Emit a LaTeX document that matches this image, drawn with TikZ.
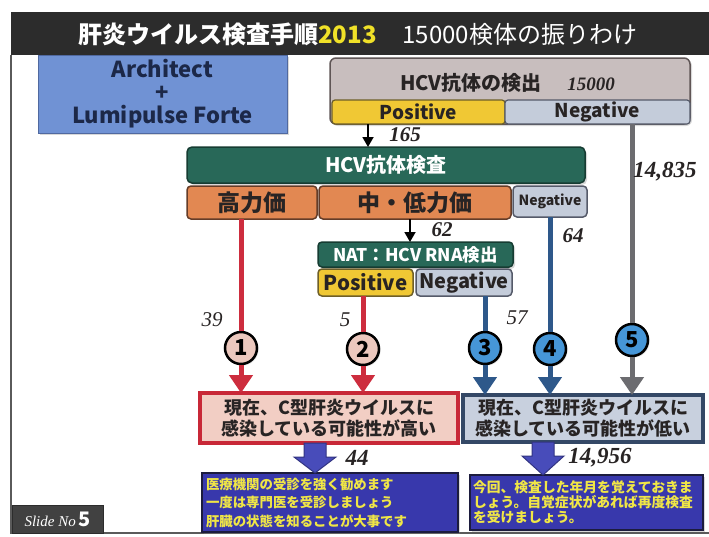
\documentclass[tikz,border=0pt]{standalone}
\usepackage{fontspec}
\setmainfont{Noto Sans CJK JP}
\newfontfamily\numfont{Liberation Serif}
\usetikzlibrary{arrows.meta,calc,shadows}
\definecolor{ttlbg}{RGB}{44,44,44}
\definecolor{ttlyel}{RGB}{240,225,40}
\definecolor{archblue}{RGB}{112,146,212}
\definecolor{archbd}{RGB}{80,105,160}
\definecolor{archtxt}{RGB}{28,40,72}
\definecolor{hcvgray}{RGB}{200,190,190}
\definecolor{hcvbd}{RGB}{95,85,85}
\definecolor{posyel}{RGB}{240,200,52}
\definecolor{posbd}{RGB}{110,95,40}
\definecolor{neggray}{RGB}{196,204,218}
\definecolor{negbd}{RGB}{85,90,105}
\definecolor{grn}{RGB}{40,104,88}
\definecolor{grnbd}{RGB}{22,60,50}
\definecolor{org}{RGB}{226,136,82}
\definecolor{orgbd}{RGB}{100,60,40}
\definecolor{redl}{RGB}{205,45,62}
\definecolor{bluel}{RGB}{46,88,138}
\definecolor{grayl}{RGB}{108,108,112}
\definecolor{cpink}{RGB}{236,200,190}
\definecolor{cblue}{RGB}{70,150,215}
\definecolor{rfill}{RGB}{242,206,196}
\definecolor{rbd}{RGB}{200,40,55}
\definecolor{bfill}{RGB}{200,208,222}
\definecolor{bbd}{RGB}{52,72,102}
\definecolor{blk}{RGB}{72,76,186}
\definecolor{blkbd}{RGB}{50,52,130}
\definecolor{navy}{RGB}{56,56,172}
\definecolor{navybd}{RGB}{28,28,62}
\definecolor{navytxt}{RGB}{240,230,70}
\definecolor{framec}{RGB}{90,90,90}
\definecolor{darktxt}{RGB}{40,36,36}
\tikzset{
  bx/.style={draw, inner sep=0pt, outer sep=0pt, anchor=north west, align=center, font=\bfseries},
  lbl/.style={inner sep=0pt, font=\numfont\itshape\bfseries\fontsize{21}{21}\selectfont, text=darktxt},
  lbll/.style={inner sep=0pt, font=\numfont\itshape\fontsize{21}{21}\selectfont, text=darktxt},
  num/.style={circle, draw=black, line width=2.5pt, minimum size=32pt, inner sep=0pt, font=\bfseries\fontsize{22}{22}\selectfont, drop shadow={opacity=0.25,shadow xshift=1.5pt,shadow yshift=-1.5pt}},
  redln/.style={draw=redl, line width=5pt},
  blueln/.style={draw=bluel, line width=5pt},
  grayln/.style={draw=grayl, line width=5pt},
  tip/.style={-{Triangle[width=23pt,length=18pt]}},
  thin/.style={draw=black, line width=1.8pt, -{Triangle[width=11pt,length=10pt]}},
  shd/.style={drop shadow={opacity=0.3,shadow xshift=2pt,shadow yshift=-2pt}},
  blockarrow/.style={fill=blk, draw=blkbd, line width=1pt}
}
\begin{document}
\begin{tikzpicture}[x=1pt,y=-1pt]
\useasboundingbox (0,0) rectangle (709,536);
\fill[white] (0,0) rectangle (709,536);
% frame
\draw[framec, line width=2pt] (11,55) -- (11,533) -- (709,533);
% title bar
\node[fill=ttlbg, minimum width=698pt, minimum height=43pt, anchor=north west, inner sep=0pt] (bar) at (11,12) {};
\node[anchor=west, inner sep=0pt, text=white, font=\bfseries\fontsize{24}{24}\selectfont] (ttl) at (78,34) {肝炎ウイルス検査手順\textcolor{ttlyel}{2013}\hspace{26pt}\mdseries 15000検体の振りわけ};
% Architect
\node[bx, shd, fill=archblue, draw=archbd, line width=1pt, minimum width=249pt, minimum height=78pt, text=archtxt, font=\bfseries\fontsize{22}{23}\selectfont] (arch) at (38,55) {Architect\\+\\Lumipulse Forte};
% HCV detection
\node[bx, shd, fill=hcvgray, draw=hcvbd, line width=1.5pt, rounded corners=6pt, minimum width=360pt, minimum height=66pt] (hcv) at (330,58) {};
\node[inner sep=0pt, text=darktxt, font=\bfseries\fontsize{20}{20}\selectfont] (hcvt) at (471,83) {HCV抗体の検出};
\node[lbl, font=\numfont\itshape\bfseries\fontsize{19}{19}\selectfont] (n15000) at (591,84) {15000};
\node[bx, fill=posyel, draw=posbd, line width=1.2pt, rounded corners=3pt, minimum width=173pt, minimum height=24pt, text=darktxt, font=\bfseries\fontsize{19}{19}\selectfont] (pos1) at (332,100) {Positive};
\node[bx, fill=neggray, draw=negbd, line width=1.2pt, rounded corners=3pt, minimum width=185pt, minimum height=24pt, text=darktxt, font=\bfseries\fontsize{19}{19}\selectfont] (neg1) at (505,100) {Negative};
% green antibody test box
\node[bx, shd, fill=grn, draw=grnbd, line width=1.5pt, rounded corners=5pt, minimum width=398pt, minimum height=36pt, text=white, font=\bfseries\fontsize{20}{20}\selectfont] (abt) at (187,147) {HCV抗体検査};
\node[bx, fill=org, draw=orgbd, line width=1.5pt, rounded corners=4pt, minimum width=130pt, minimum height=33pt, text=darktxt, font=\bfseries\fontsize{23}{23}\selectfont] (hi) at (187,186) {高力価};
\node[bx, fill=org, draw=orgbd, line width=1.5pt, rounded corners=4pt, minimum width=192pt, minimum height=33pt, text=darktxt, font=\bfseries\fontsize{23}{23}\selectfont] (mid) at (319,186) {中・低力価};
\node[bx, fill=neggray, draw=negbd, line width=1.5pt, rounded corners=4pt, minimum width=74pt, minimum height=31pt, text=darktxt, font=\bfseries\fontsize{14}{14}\selectfont] (neg2) at (513,186) {Negative};
% NAT
\node[bx, shd, fill=grn, draw=grnbd, line width=1.5pt, rounded corners=4pt, minimum width=195pt, minimum height=25pt, text=white, font=\bfseries\fontsize{17.5}{17.5}\selectfont] (nat) at (318,242) {NAT：HCV RNA検出};
\node[bx, fill=posyel, draw=posbd, line width=1.5pt, rounded corners=4pt, minimum width=95pt, minimum height=27pt, text=darktxt, font=\bfseries\fontsize{20.5}{20.5}\selectfont] (pos2) at (318,269) {Positive};
\node[bx, fill=neggray, draw=negbd, line width=1.5pt, rounded corners=4pt, minimum width=96pt, minimum height=27pt, text=darktxt, font=\bfseries\fontsize{20}{20}\selectfont] (neg3) at (416,269) {Negative};
% result boxes
\node[bx, shd, fill=rfill, draw=rbd, line width=4pt, minimum width=258pt, minimum height=50pt, text=darktxt, font=\bfseries\fontsize{18}{21}\selectfont] (rbox) at (200,393) {現在、C型肝炎ウイルスに\\感染している可能性が高い};
\node[bx, shd, fill=bfill, draw=bbd, line width=4pt, minimum width=240pt, minimum height=47pt, text=darktxt, font=\bfseries\fontsize{18}{21}\selectfont] (bbox) at (463,395) {現在、C型肝炎ウイルスに\\感染している可能性が低い};
% advice boxes
\node[bx, shd, fill=navy, draw=navybd, line width=2.5pt, minimum width=256pt, minimum height=59pt, text width=248pt, inner xsep=4pt, text=navytxt, align=left, font=\bfseries\fontsize{13.4}{18.5}\selectfont] (adv1) at (202,473) {医療機関の受診を強く勧めます\\一度は専門医を受診しましょう\\肝臓の状態を知ることが大事です};
\node[bx, shd, fill=navy, draw=navybd, line width=2.5pt, minimum width=233pt, minimum height=55pt, text width=227pt, inner xsep=3pt, text=navytxt, align=left, font=\bfseries\fontsize{13.8}{15}\selectfont] (adv2) at (470,475) {今回、検査した年月を覚えておきま\\しょう。自覚症状があれば再度検査\\を受けましょう。};
% slide no
\node[bx, fill=ttlbg!90, draw=ttlbg, line width=1pt, minimum width=91pt, minimum height=28pt, text=white, font=\fontsize{15}{15}\selectfont] (slide) at (12,505) {{\numfont\itshape Slide No}\,{\bfseries\fontsize{20}{20}\selectfont 5}};
% circles
\node[num, fill=cpink] (c1) at (241,348) {1};
\node[num, fill=cpink] (c2) at (363,349) {2};
\node[num, fill=cblue] (c3) at (485,348) {3};
\node[num, fill=cblue] (c4) at (550,349) {4};
\node[num, fill=cblue] (c5) at (632,340) {5};
% connectors
\coordinate (a165) at (368,0);
\coordinate (a62) at (410,0);
\draw[thin] (a165 |- pos1.south) -- (a165 |- abt.north);
\draw[thin] (a62 |- mid.south) -- (a62 |- nat.north);
\draw[grayln] (c5 |- neg1.south) -- (c5.north);
\draw[grayln, tip] (c5.south) -- (c5 |- bbox.north);
\draw[redln] (c1 |- hi.south) -- (c1.north);
\draw[redln, tip] (c1.south) -- (c1 |- rbox.north);
\draw[redln] (c2 |- pos2.south) -- (c2.north);
\draw[redln, tip] (c2.south) -- (c2 |- rbox.north);
\draw[blueln] (c3 |- neg3.south) -- (c3.north);
\draw[blueln, tip] (c3.south) -- (c3 |- bbox.north);
\draw[blueln] (c4 |- neg2.south) -- (c4.north);
\draw[blueln, tip] (c4.south) -- (c4 |- bbox.north);
% block arrows
\coordinate (ba1) at (315,0);
\coordinate (ba2) at (543,0);
\draw[blockarrow] ($(ba1 |- rbox.south)+(-11,0)$) -- ++(0,14) -- ++(-10,0) -- ($(ba1 |- adv1.north)$) -- ($(ba1 |- rbox.south)+(21,14)$) -- ++(-10,0) -- ($(ba1 |- rbox.south)+(11,0)$) -- cycle;
\draw[blockarrow] ($(ba2 |- bbox.south)+(-11,0)$) -- ++(0,14) -- ++(-10,0) -- ($(ba2 |- adv2.north)$) -- ($(ba2 |- bbox.south)+(21,14)$) -- ++(-10,0) -- ($(ba2 |- bbox.south)+(11,0)$) -- cycle;
% labels
\node[lbl] (l165) at (405,135) {165};
\node[lbl, font=\numfont\itshape\bfseries\fontsize{23}{23}\selectfont] (l14835) at (665,172) {14,835};
\node[lbl] (l62) at (442,230) {62};
\node[lbl] (l64) at (573,236) {64};
\node[lbll] (l39) at (212,320) {39};
\node[lbll] (l5) at (345,320) {5};
\node[lbll] (l57) at (517,318) {57};
\node[lbl, font=\numfont\itshape\bfseries\fontsize{23}{23}\selectfont] (l44) at (357,458) {44};
\node[lbl, font=\numfont\itshape\bfseries\fontsize{23}{23}\selectfont] (l14956) at (600,458) {14,956};
\end{tikzpicture}
\end{document}
